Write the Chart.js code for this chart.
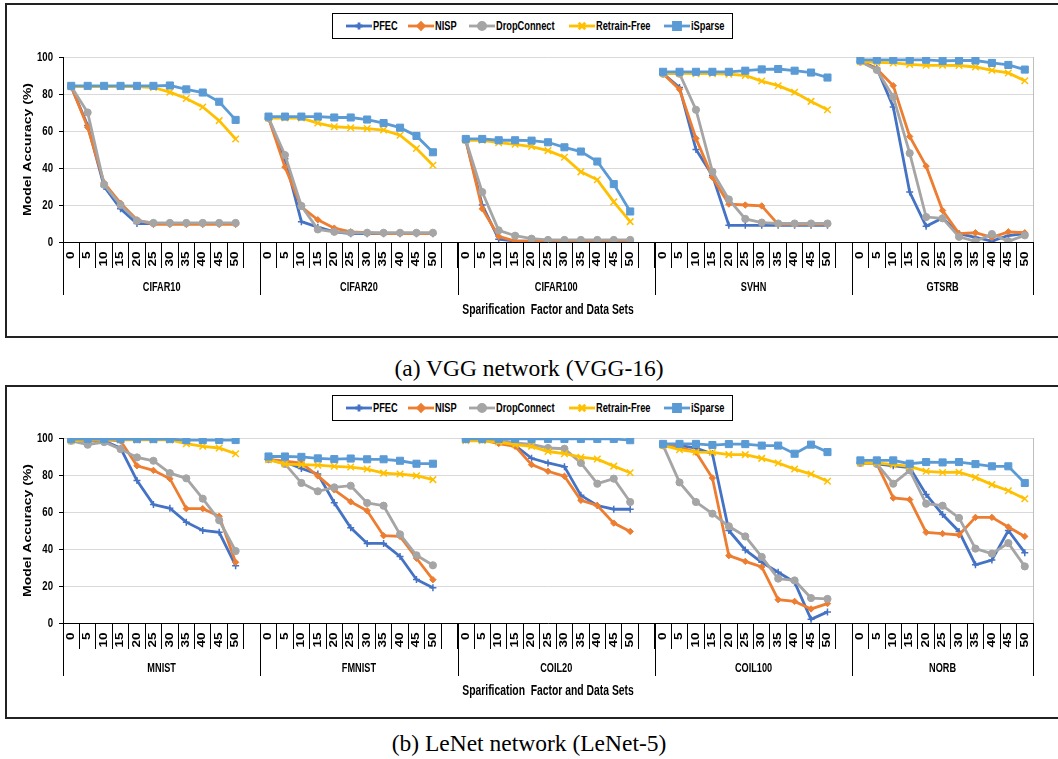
<!DOCTYPE html>
<html>
<head>
<meta charset="utf-8">
<script src="https://cdn.jsdelivr.net/npm/chart.js@4.4.1/dist/chart.umd.min.js"></script>
<style>
  body { margin: 0; background: #fff; width: 1058px; height: 759px; position: relative; overflow: hidden; }
  .frame { position: absolute; left: 5px; width: 1060px; border: 2px solid #222; box-sizing: border-box; }
  canvas.chart { position: absolute; left: 0; }
  .legend { position: absolute; left: 332px; width: 401px; height: 26px; border: 1.5px solid #000; box-sizing: border-box; background: #fff; }
  .legend .item { position: absolute; top: 5px; display: flex; align-items: center; height: 14px; white-space: nowrap; }
  .legend canvas { margin-right: 1px; }
  .legend span { display: inline-block; font: bold 12.5px 'Liberation Sans', Arial, sans-serif; color: #000;
    transform: scaleX(0.74); transform-origin: left center; }
  .caption { position: absolute; left: 0; width: 1058px; text-align: center; font: 23.5px 'Liberation Serif', 'DejaVu Serif', serif; line-height: 24px; color: #000; }
</style>
</head>
<body>
<div class="frame" style="top:3px;height:335px"></div>
<canvas id="vgg" class="chart" width="1058" height="340" style="top:0"></canvas>
<div class="legend" id="legA" style="top:13px"></div>
<div class="caption" style="top:356px">(a) VGG network (VGG-16)</div>

<div class="frame" style="top:385px;height:334px"></div>
<canvas id="lenet" class="chart" width="1058" height="340" style="top:381px"></canvas>
<div class="legend" id="legB" style="top:395px"></div>
<div class="caption" style="top:731px">(b) LeNet network (LeNet-5)</div>

<script>
// sparsification factors per data set
const sparsity = ['0', '5', '10', '15', '20', '25', '30', '35', '40', '45', '50'];
const vggSets = ['CIFAR10', 'CIFAR20', 'CIFAR100', 'SVHN', 'GTSRB'];
const lenetSets = ['MNIST', 'FMNIST', 'COIL20', 'COIL100', 'NORB'];

// VGG-16 accuracies (%), one row per data set
const vggPFEC = [
  [84, 63, 30, 18, 10, 10, 10, 10, 10, 10, 10],
  [67, 45, 11, 8, 5.5, 4.5, 4.5, 4.5, 4.5, 4.5, 4.5],
  [55, 20, 1.5, 0.5, 0.5, 0.5, 0.5, 0.5, 0.5, 0.5, 0.5],
  [91, 83.5, 50, 36, 9, 9, 9, 9, 9, 9, 9],
  [97.5, 94, 73, 27, 8.5, 13, 4.5, 2.5, 0.5, 3.5, 4.5]
];
const vggNISP = [
  [84, 62, 32, 21, 12, 9.5, 9.5, 9.5, 9.5, 9.5, 9.5],
  [67, 40.5, 19, 12, 7.5, 5.5, 5, 4.5, 4.5, 4.5, 4.5],
  [55, 18, 3, 0.5, 0.5, 0.5, 0.5, 0.5, 0.5, 0.5, 0.5],
  [91, 82.5, 56, 35, 20.5, 20, 19.5, 9.5, 9.5, 9.5, 9.5],
  [97.5, 93.5, 84.5, 57, 41, 17, 4.5, 5, 2.5, 5.5, 5]
];
const vggDropConnect = [
  [84, 70, 31, 20, 11.5, 10.3, 10.3, 10.3, 10.3, 10.3, 10.3],
  [67, 47, 19.5, 6.8, 5.5, 5, 5, 5, 5, 5, 5],
  [55, 27, 6.3, 3.4, 1.8, 1.1, 1.1, 1.1, 1.1, 1.1, 1.1],
  [91, 91, 71.5, 38, 23, 12.5, 10.5, 10, 10, 10, 10],
  [97.5, 93, 78.5, 48, 13.5, 12.8, 2.8, 0.4, 4.3, 0.4, 3.6]
];
const vggRetrainFree = [
  [84, 84, 84, 84, 84, 83.5, 81, 77.6, 73, 65.6, 55.7],
  [67, 67, 67, 64.3, 62.3, 61.8, 61.3, 60.5, 57.7, 50.5, 41.5],
  [55, 55, 53.7, 52.8, 51.6, 49.4, 45.8, 37.9, 33.6, 21.7, 11],
  [91.2, 91.2, 91, 91, 90.7, 90, 87, 84.5, 80.9, 76, 71.5],
  [97.5, 97.1, 96.8, 96, 95.5, 95.5, 95.4, 94.6, 92.8, 91.4, 87.2]
];
const vggISparse = [
  [84.4, 84.4, 84.4, 84.4, 84.4, 84.4, 84.6, 82.5, 80.8, 75.8, 66],
  [67.8, 67.8, 67.8, 67.8, 67.3, 67.3, 66.2, 64.3, 61.8, 57.3, 48.5],
  [55.7, 55.7, 55, 55, 54.8, 53.9, 51.2, 48.9, 43.5, 31.3, 16.5],
  [92, 92, 92, 92, 92, 92.6, 93.3, 93.5, 92.6, 91.6, 88.9],
  [98.4, 98.5, 98.5, 98.5, 98.5, 97.9, 98.1, 98.1, 96.8, 95.7, 93.2]
];

// LeNet-5 accuracies (%)
const lenetPFEC = [
  [99, 98.5, 98.5, 94.5, 77, 64, 62, 54.5, 50, 49, 31],
  [88.5, 87, 83.5, 80.5, 65, 51.5, 43, 43, 36, 23.5, 19],
  [99, 99, 98.5, 96, 89, 86.5, 84.5, 69, 63.5, 61.5, 61.5],
  [96, 96, 94.5, 91.5, 50, 39.5, 32.8, 27.4, 22, 2, 6],
  [86.5, 86, 85, 84, 69.5, 58.6, 49.5, 31.5, 34, 50, 38]
];
const lenetNISP = [
  [99, 98.5, 99, 98.5, 85, 82.5, 78, 61.8, 61.8, 57.7, 32.8],
  [88.5, 87.5, 86.5, 79.5, 72, 65.5, 60.7, 47.2, 46.8, 35, 23.4],
  [99, 99, 97, 95.5, 85.6, 82, 79.3, 66.3, 63.5, 54, 49.5],
  [96, 95, 92.3, 78.4, 36.4, 33.3, 30.3, 12.6, 11.7, 7.6, 10.5],
  [86.5, 86, 67.6, 66.7, 49, 48.3, 47.6, 57.1, 57.1, 51.9, 46.8]
];
const lenetDropConnect = [
  [98.5, 96.4, 97.8, 94, 89.5, 87.7, 81, 78.2, 67.2, 55.5, 38.9],
  [88.5, 86, 75.7, 71.2, 73.3, 74.2, 64.9, 63.4, 47.9, 36.6, 31.2],
  [99.5, 100, 99, 97.3, 96.5, 94.6, 94.2, 86.5, 75.3, 78, 65.4],
  [96, 76, 65.4, 59.1, 52.3, 46.8, 35.7, 24, 23, 13.5, 13],
  [86.5, 86, 75.3, 82.5, 64.5, 63.4, 56.8, 40.2, 37.5, 43.2, 30.6]
];
const lenetRetrainFree = [
  [98.4, 99, 99, 99, 99, 99, 99, 96.9, 95.5, 94.6, 91.5],
  [88.3, 85.9, 85.6, 85.3, 84.7, 84.3, 83.2, 81, 80.5, 79.6, 77.5],
  [98.5, 98.5, 97.8, 96.4, 95.5, 92.7, 91.5, 89.6, 88.6, 84.8, 81.2],
  [96, 93.7, 92.4, 92.2, 91, 91, 89, 86.5, 83.2, 80.5, 76.6],
  [86.5, 86.5, 85.6, 84.7, 82, 81.4, 81.5, 78.7, 74.8, 71.5, 67.2]
];
const lenetISparse = [
  [99.4, 99.4, 99.4, 99.4, 99.4, 99.4, 99.4, 98.9, 98.9, 98.9, 98.9],
  [90, 90, 89.8, 89, 88.6, 88.9, 88.5, 88.5, 87.7, 86.1, 86.1],
  [99.5, 99.5, 99.5, 99.5, 99.5, 99.5, 99.5, 99.5, 99.5, 99.5, 98.8],
  [96.8, 96.8, 96.8, 96.2, 96.7, 96.7, 95.9, 95.9, 91.5, 96.4, 92.4],
  [87.9, 87.9, 87.9, 86.1, 87, 86.8, 87, 85.9, 84.7, 84.7, 75.7]
];

const methods = ['PFEC', 'NISP', 'DropConnect', 'Retrain-Free', 'iSparse'];
const colors = ['#4472C4', '#ED7D31', '#A5A5A5', '#FFC000', '#5B9BD5'];
const markers = ['cross', 'rectRot', 'circle', 'crossRot', 'rect'];
const markerSize = [3.5, 3.2, 3.6, 4.6, 5];

// one empty slot between data sets, like the Excel category axis
function withGaps(groups, gap) {
  const out = [];
  groups.forEach((g, i) => {
    out.push(...g);
    if (i < groups.length - 1) out.push(gap);
  });
  return out;
}

const sans = "'Liberation Sans', Arial, sans-serif";
const squeeze = 0.74; // the source figure's text is horizontally condensed

function squeezedText(ctx, str, cx, cy, size, align, rotated, sq) {
  ctx.save();
  ctx.translate(cx, cy);
  ctx.scale(sq || squeeze, 1);
  if (rotated) ctx.rotate(-Math.PI / 2);
  ctx.font = 'bold ' + size + 'px ' + sans;
  ctx.fillStyle = '#000';
  ctx.textAlign = align;
  ctx.textBaseline = 'middle';
  ctx.fillText(str, 0, 0);
  ctx.restore();
}

// tick labels, group separators, data set names and axis titles
const groupAxis = {
  id: 'groupAxis',
  beforeDatasetsDraw(chart) {
    const { ctx, chartArea: a } = chart;
    ctx.save();
    ctx.strokeStyle = '#bfbfbf';
    ctx.lineWidth = 1;
    ctx.beginPath();
    ctx.moveTo(Math.round(a.right) + 0.5, a.top);
    ctx.lineTo(Math.round(a.right) + 0.5, a.bottom);
    ctx.stroke();
    ctx.restore();
  },
  afterDraw(chart, args, opts) {
    const { ctx, chartArea: a, scales: { x, y } } = chart;
    const names = opts.names;

    y.ticks.forEach(t => squeezedText(ctx, String(t.value), a.left - 10, y.getPixelForValue(t.value), 13, 'right', false));
    x.getLabels().forEach((lab, i) => {
      if (lab) squeezedText(ctx, lab, x.getPixelForValue(i), a.bottom + 9.5, 13.5, 'right', true);
    });

    const step = x.getPixelForValue(1) - x.getPixelForValue(0);
    ctx.save();
    ctx.strokeStyle = '#000';
    ctx.lineWidth = 1;
    let idx = 0;
    names.forEach((n, g) => {
      const len = g < names.length - 1 ? 12 : 11;
      const l = x.getPixelForValue(idx) - step / 2;
      const r = x.getPixelForValue(idx + len - 1) + step / 2;
      const edges = g < names.length - 1 ? [l] : [l, r];
      edges.forEach(px => {
        ctx.beginPath();
        ctx.moveTo(Math.round(px) + 0.5, a.bottom);
        ctx.lineTo(Math.round(px) + 0.5, a.bottom + 53);
        ctx.stroke();
      });
      squeezedText(ctx, n, (l + r) / 2, a.bottom + 45, 13.5, 'center', false, 0.68);
      idx += len;
    });
    ctx.restore();

    squeezedText(ctx, 'Sparification  Factor and Data Sets', (a.left + a.right) / 2, 310, 14, 'center', false);
    squeezedText(ctx, 'Model Accuracy (%)', 28.5, (a.top + a.bottom) / 2, 14, 'center', true);
  }
};

function makeChart(id, names, series) {
  const labels = withGaps(names.map(() => sparsity), '');
  const datasets = series.map((s, i) => ({
    label: methods[i],
    data: withGaps(s, null),
    borderColor: colors[i],
    backgroundColor: colors[i],
    pointBackgroundColor: colors[i],
    pointBorderColor: colors[i],
    pointStyle: markers[i],
    pointRadius: markerSize[i],
    pointBorderWidth: (markers[i] === 'cross' || markers[i] === 'crossRot') ? 1.5 : 1,
    borderWidth: 2.8,
    tension: 0,
    spanGaps: false,
    order: 5 - i
  }));
  return new Chart(document.getElementById(id), {
    type: 'line',
    data: { labels, datasets },
    options: {
      responsive: false,
      animation: false,
      devicePixelRatio: 1,
      layout: { padding: { left: 0, right: 25, top: 57, bottom: 0 } },
      plugins: {
        legend: { display: false },
        tooltip: { enabled: false },
        groupAxis: { names }
      },
      scales: {
        x: {
          type: 'category',
          offset: true,
          grid: { display: true, drawOnChartArea: false, drawTicks: true, tickLength: 26, offset: true, color: '#000', lineWidth: 1 },
          border: { display: true, color: '#000', width: 1 },
          ticks: { display: false, autoSkip: false },
          afterFit: s => { s.height = 98; }
        },
        y: {
          min: 0, max: 100,
          ticks: { display: false, stepSize: 20 },
          grid: { color: '#d9d9d9', lineWidth: 1, tickLength: 4, tickColor: '#000' },
          border: { display: true, color: '#000', width: 1 },
          afterFit: s => { s.width = 63; }
        }
      }
    },
    plugins: [groupAxis]
  });
}

makeChart('vgg', vggSets, [vggPFEC, vggNISP, vggDropConnect, vggRetrainFree, vggISparse]);
makeChart('lenet', lenetSets, [lenetPFEC, lenetNISP, lenetDropConnect, lenetRetrainFree, lenetISparse]);

// legend: line + marker icon followed by name
const legendLeft = [13, 75, 136, 236, 331];
function drawIcon(cv, i) {
  const c = cv.getContext('2d');
  c.strokeStyle = colors[i];
  c.fillStyle = colors[i];
  c.lineWidth = 2.8;
  c.beginPath(); c.moveTo(0, 7); c.lineTo(26, 7); c.stroke();
  Chart.helpers.drawPoint(c, { pointStyle: markers[i], radius: markerSize[i], borderWidth: 1.5 }, 13, 7);
}
['legA', 'legB'].forEach(id => {
  const box = document.getElementById(id);
  methods.forEach((m, i) => {
    const item = document.createElement('div');
    item.className = 'item';
    item.style.left = legendLeft[i] + 'px';
    const cv = document.createElement('canvas');
    cv.width = 26; cv.height = 14;
    item.appendChild(cv);
    const t = document.createElement('span');
    t.textContent = m;
    item.appendChild(t);
    box.appendChild(item);
    drawIcon(cv, i);
  });
});
</script>
</body>
</html>
